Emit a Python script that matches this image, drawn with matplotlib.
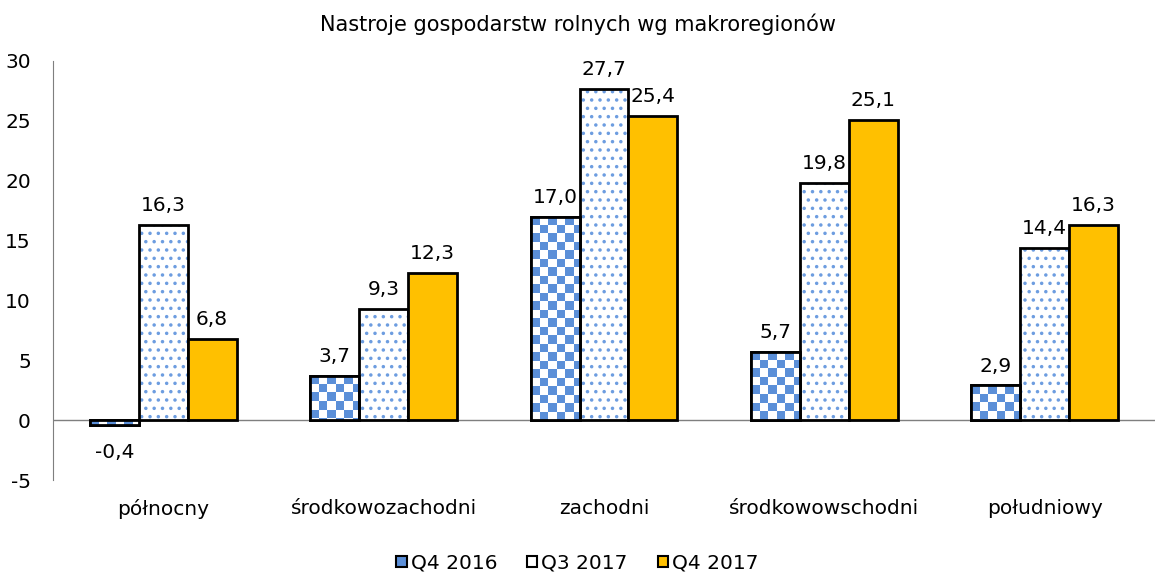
import numpy as np
import matplotlib
matplotlib.use('Agg')
import matplotlib.pyplot as plt
from matplotlib.patches import Patch

regions = ['północny', 'środkowozachodni', 'zachodni', 'środkowowschodni', 'południowy']
q4_2016 = [-0.4, 3.7, 17.0, 5.7, 2.9]
q3_2017 = [16.3, 9.3, 27.7, 19.8, 14.4]
q4_2017 = [6.8, 12.3, 25.4, 25.1, 16.3]
series_names = ['Q4 2016', 'Q3 2017', 'Q4 2017']

blue = '#5b8fd8'
gold = '#ffc000'

plt.rcParams['font.family'] = ['DejaVu Sans']
plt.rcParams['hatch.linewidth'] = 1.3
plt.rcParams['axes.unicode_minus'] = False
fs = 14.5

fig = plt.figure(figsize=(11.55, 5.79), dpi=100)
ax = fig.add_axes([53 / 1155, 99 / 579, 1102 / 1155, 419 / 579])

index = np.arange(len(regions))
bar_width = 0.222

# Q4 2016 - szachownica
rects1 = ax.bar(index - bar_width, q4_2016, bar_width, color='white', edgecolor='black', linewidth=2, zorder=3)
cell_px = 8.5
px_x = 1102 / 5.0   # piksele na jednostke x
px_y = 419 / 35.0   # piksele na jednostke y
for r in rects1:
    x0, y0 = r.get_x(), r.get_y()
    w, h = r.get_width(), r.get_height()
    y_lo, y_hi = min(y0, y0 + h), max(y0, y0 + h)
    nx = max(1, int(np.ceil(w * px_x / cell_px)))
    ny = max(1, int(np.ceil((y_hi - y_lo) * px_y / cell_px)))
    checker = (np.add.outer(np.arange(ny), np.arange(nx)) + 1) % 2
    if h >= 0:
        ext = (x0, x0 + nx * cell_px / px_x, y_hi - ny * cell_px / px_y, y_hi)
    else:
        ext = (x0, x0 + nx * cell_px / px_x, y_lo, y_lo + ny * cell_px / px_y)
    img = ax.imshow(checker, cmap=matplotlib.colors.ListedColormap(['white', blue]),
                    extent=ext, origin='upper', interpolation='nearest', aspect='auto', zorder=3.5)
    img.set_clip_path(r)
ax.bar(index - bar_width, q4_2016, bar_width, fill=False, edgecolor='black', linewidth=2, zorder=4)

# Q3 2017 - kropki
ax.bar(index, q3_2017, bar_width, color='white', edgecolor='#6d9de0', hatch='..', linewidth=0, zorder=3)
ax.bar(index, q3_2017, bar_width, fill=False, edgecolor='black', linewidth=2, zorder=4)

# Q4 2017 - pelny
ax.bar(index + bar_width, q4_2017, bar_width, color=gold, edgecolor='black', linewidth=2, zorder=4)

# etykiety wartosci
for offs, vals in zip([-bar_width, 0, bar_width], [q4_2016, q3_2017, q4_2017]):
    for i, v in enumerate(vals):
        txt = ('%.1f' % v).replace('.', ',')
        if v >= 0:
            ax.annotate(txt, (i + offs, v), xytext=(0, 7), textcoords='offset points',
                        ha='center', va='bottom', fontsize=fs)
        else:
            ax.annotate(txt, (i + offs, v), xytext=(0, -13), textcoords='offset points',
                        ha='center', va='top', fontsize=fs)

ax.set_xlim(-0.5, 4.5)
ax.set_ylim(-5, 30)
ax.set_yticks(range(-5, 31, 5))
ax.set_xticks(index)
ax.set_xticklabels(regions)
ax.tick_params(axis='x', length=0, pad=14, labelsize=fs)
ax.tick_params(axis='y', length=0, pad=16, labelsize=fs)
ax.axhline(0, color='#7f7f7f', linewidth=1, zorder=2)
for s in ['top', 'right', 'bottom']:
    ax.spines[s].set_visible(False)
ax.spines['left'].set_color('#7f7f7f')

fig.text(0.5, 1 - 24 / 579, 'Nastroje gospodarstw rolnych wg makroregionów', ha='center', va='center', fontsize=15)

handles = [Patch(facecolor=blue, edgecolor='black', linewidth=1.5),
           Patch(facecolor='white', edgecolor='black', linewidth=1.5),
           Patch(facecolor=gold, edgecolor='black', linewidth=1.5)]
fig.legend(handles, series_names, loc='center', bbox_to_anchor=(0.5, 1 - 563 / 579), ncol=3,
           frameon=False, fontsize=fs, handlelength=0.5, handleheight=0.5, handletextpad=0.2, columnspacing=1.5)

fig.savefig('out.png', dpi=100)
